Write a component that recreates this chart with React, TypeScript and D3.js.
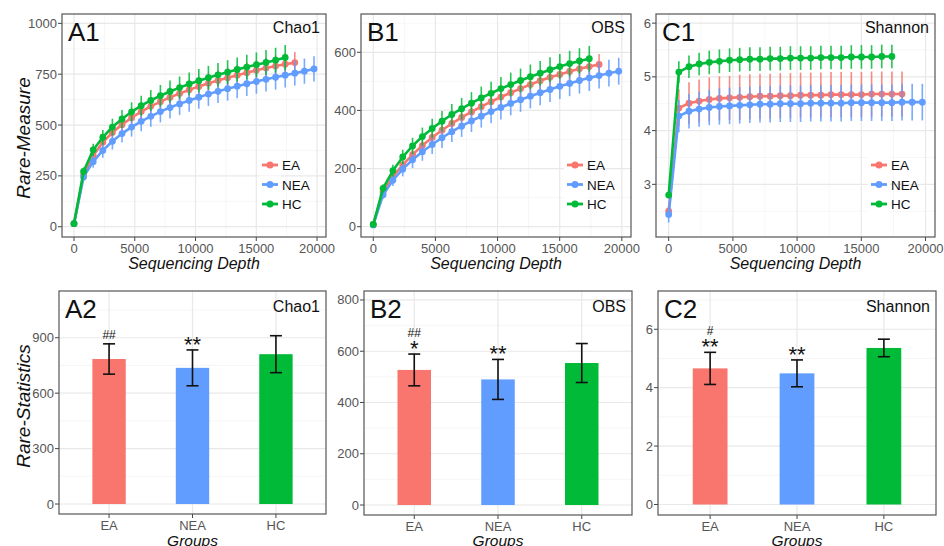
import { useEffect, useRef } from "react";
import * as d3 from "d3";

const groups = ["EA", "NEA", "HC"];
const colors = ["#F8766D", "#619CFF", "#00BA38"];

const depths = [0, 790, 1580, 2370, 3160, 3950, 4740, 5530, 6320, 7110, 7900, 8690, 9480,
  10270, 11060, 11850, 12640, 13430, 14220, 15010, 15800, 16590, 17380, 18170, 18960, 19750];

// Chao1 rarefaction
const chaoEA = [15, 255, 350, 415, 463, 502, 536, 566, 592, 615, 636, 655, 673, 690, 705, 719, 732, 745, 757, 769, 780, 790, 799, 807];
const chaoNEA = [15, 245, 320, 375, 420, 458, 490, 518, 543, 566, 586, 604, 621, 637, 652, 666, 679, 691, 703, 714, 725, 735, 745, 755, 765, 776];
const chaoHC = [15, 272, 378, 440, 490, 530, 565, 595, 621, 644, 665, 684, 702, 718, 733, 747, 760, 773, 785, 797, 808, 819, 832];
const chaoEAsd = [4, 18, 28, 33, 37, 40, 42, 44, 45, 46, 47, 48, 48, 49, 49, 50, 50, 50, 51, 51, 51, 52, 52, 52];
const chaoNEAsd = [4, 20, 30, 36, 40, 44, 47, 49, 51, 53, 54, 55, 56, 57, 58, 58, 59, 59, 60, 60, 60, 61, 61, 61, 62, 62];
const chaoHCsd = [4, 20, 30, 36, 41, 44, 47, 49, 51, 53, 54, 55, 56, 57, 58, 58, 59, 59, 60, 60, 61, 61, 62];

// Observed species rarefaction
const obsEA = [8, 120, 173, 213, 248, 279, 307, 332, 355, 376, 395, 413, 430, 446, 461, 475, 489, 502, 514, 524, 534, 543, 551, 558];
const obsNEA = [6, 110, 160, 198, 230, 258, 283, 306, 327, 346, 364, 380, 396, 410, 424, 437, 449, 461, 472, 483, 493, 503, 512, 520, 528, 535];
const obsHC = [8, 132, 193, 240, 278, 310, 338, 363, 386, 406, 425, 443, 459, 475, 489, 503, 516, 528, 540, 551, 561, 570, 578];
const obsEAsd = [3, 12, 18, 22, 25, 27, 29, 30, 31, 32, 33, 33, 34, 34, 34, 35, 35, 35, 36, 36, 36, 36, 36, 36];
const obsNEAsd = [3, 14, 20, 25, 28, 31, 33, 35, 36, 37, 38, 39, 40, 41, 41, 42, 42, 43, 43, 44, 44, 45, 45, 45, 46, 46];
const obsHCsd = [3, 14, 20, 25, 28, 31, 33, 35, 36, 37, 38, 39, 40, 40, 41, 41, 42, 42, 43, 43, 44, 44, 44];

// Shannon rarefaction
const shanEA = [2.5, 4.42, 4.51, 4.55, 4.58, 4.6, 4.61, 4.62, 4.63, 4.64, 4.64, 4.65, 4.65, 4.66, 4.66, 4.66, 4.67, 4.67, 4.67, 4.67, 4.68, 4.68, 4.68, 4.68];
const shanNEA = [2.44, 4.27, 4.36, 4.4, 4.43, 4.45, 4.46, 4.47, 4.48, 4.49, 4.49, 4.5, 4.5, 4.5, 4.51, 4.51, 4.51, 4.51, 4.52, 4.52, 4.52, 4.52, 4.52, 4.53, 4.53, 4.53];
const shanHC = [2.8, 5.09, 5.19, 5.24, 5.27, 5.29, 5.31, 5.32, 5.33, 5.33, 5.34, 5.34, 5.35, 5.35, 5.35, 5.36, 5.36, 5.36, 5.37, 5.37, 5.37, 5.38, 5.38];
const shanEAsd = [0.08, 0.35, 0.39, 0.4, 0.41, 0.41, 0.41, 0.42, 0.42, 0.42, 0.42, 0.42, 0.42, 0.42, 0.42, 0.42, 0.42, 0.42, 0.42, 0.42, 0.42, 0.42, 0.42, 0.42];
const shanNEAsd = [0.15, 0.3, 0.32, 0.33, 0.33, 0.34, 0.34, 0.34, 0.34, 0.34, 0.34, 0.34, 0.34, 0.34, 0.34, 0.34, 0.34, 0.34, 0.34, 0.34, 0.34, 0.34, 0.34, 0.34, 0.34, 0.34];
const shanHCsd = [0.05, 0.2, 0.21, 0.21, 0.22, 0.22, 0.22, 0.22, 0.22, 0.22, 0.22, 0.22, 0.22, 0.22, 0.22, 0.22, 0.22, 0.22, 0.22, 0.22, 0.22, 0.22, 0.22];

// group statistics (mean, sd)
const chaoMean = [785, 737, 811];
const chaoSd = [82, 97, 100];
const obsMean = [527, 490, 554];
const obsSd = [62, 78, 76];
const shanMean = [4.66, 4.49, 5.36];
const shanSd = [0.55, 0.46, 0.3];

// significance marks
const chaoStars = ["", "**", ""];
const chaoHash = ["##", "", ""];
const obsStars = ["*", "**", ""];
const obsHash = ["##", "", ""];
const shanStars = ["**", "**", ""];
const shanHash = ["#", "", ""];

const FONT = "'Liberation Sans', Arial, sans-serif";

type Sel = d3.Selection<SVGGElement, unknown, null, undefined>;

function frame(g: Sel, x: d3.ScaleLinear<number, number>, y: d3.ScaleLinear<number, number>,
  xMajor: number[], xMinor: number[], yMajor: number[], yMinor: number[],
  xLabels: string[], yLabels: string[]) {
  const [x0, x1] = x.range();
  const [y0, y1] = y.range();
  g.append("rect").attr("x", x0).attr("y", y1).attr("width", x1 - x0).attr("height", y0 - y1).attr("fill", "white");
  const inX = (v: number) => x(v) > x0 && x(v) < x1;
  const inY = (v: number) => y(v) < y0 && y(v) > y1;
  g.selectAll(null).data(xMinor.filter(inX)).join("line")
    .attr("x1", d => x(d)).attr("x2", d => x(d)).attr("y1", y0).attr("y2", y1)
    .attr("stroke", "#f2f2f2").attr("stroke-width", 0.7);
  g.selectAll(null).data(yMinor.filter(inY)).join("line")
    .attr("y1", d => y(d)).attr("y2", d => y(d)).attr("x1", x0).attr("x2", x1)
    .attr("stroke", "#f2f2f2").attr("stroke-width", 0.7);
  g.selectAll(null).data(xMajor).join("line")
    .attr("x1", d => x(d)).attr("x2", d => x(d)).attr("y1", y0).attr("y2", y1)
    .attr("stroke", "#e8e8e8").attr("stroke-width", 1.2);
  g.selectAll(null).data(yMajor).join("line")
    .attr("y1", d => y(d)).attr("y2", d => y(d)).attr("x1", x0).attr("x2", x1)
    .attr("stroke", "#e8e8e8").attr("stroke-width", 1.2);
  // ticks
  g.selectAll(null).data(xMajor).join("line")
    .attr("x1", d => x(d)).attr("x2", d => x(d)).attr("y1", y0).attr("y2", y0 + 4)
    .attr("stroke", "#444").attr("stroke-width", 1);
  g.selectAll(null).data(yMajor).join("line")
    .attr("y1", d => y(d)).attr("y2", d => y(d)).attr("x1", x0).attr("x2", x0 - 4)
    .attr("stroke", "#444").attr("stroke-width", 1);
  g.selectAll(null).data(xMajor).join("text")
    .attr("x", d => x(d)).attr("y", y0 + 15.5).attr("text-anchor", "middle")
    .attr("font-size", 13).attr("fill", "#555").attr("font-family", FONT)
    .text((d, i) => xLabels[i]);
  g.selectAll(null).data(yMajor).join("text")
    .attr("x", x0 - 5).attr("y", d => y(d) + 4.5).attr("text-anchor", "end")
    .attr("font-size", 13).attr("fill", "#555").attr("font-family", FONT)
    .text((d, i) => yLabels[i]);
}

function border(g: Sel, x: d3.ScaleLinear<number, number>, y: d3.ScaleLinear<number, number>) {
  const [x0, x1] = x.range();
  const [y0, y1] = y.range();
  g.append("rect").attr("x", x0).attr("y", y1).attr("width", x1 - x0).attr("height", y0 - y1)
    .attr("fill", "none").attr("stroke", "#555").attr("stroke-width", 1.2);
}

function titles(g: Sel, x0: number, x1: number, big: string, small: string, bigBase: number, smallBase: number) {
  g.append("text").attr("x", x0 + 6).attr("y", bigBase).attr("font-size", 26).attr("font-family", FONT)
    .attr("fill", "#111").text(big);
  g.append("text").attr("x", x1 - 6).attr("y", smallBase).attr("text-anchor", "end").attr("font-size", 16)
    .attr("font-family", FONT).attr("fill", "#111").text(small);
}

export default function App() {
  const ref = useRef<SVGSVGElement>(null);

  useEffect(() => {
    const svg = d3.select(ref.current);
    svg.selectAll("*").remove();

    const linePanels = [
      { left: 62, right: 326, top: 14, bottom: 237, yDomain: [-50.6, 1046], yMajor: [0, 250, 500, 750, 1000], yMinor: [125, 375, 625, 875],
        big: "A1", small: "Chao1", means: [chaoEA, chaoNEA, chaoHC], sds: [chaoEAsd, chaoNEAsd, chaoHCsd] },
      { left: 361, right: 631, top: 14, bottom: 237, yDomain: [-35.4, 731.7], yMajor: [0, 200, 400, 600], yMinor: [100, 300, 500, 700],
        big: "B1", small: "OBS", means: [obsEA, obsNEA, obsHC], sds: [obsEAsd, obsNEAsd, obsHCsd] },
      { left: 656, right: 935, top: 14, bottom: 237, yDomain: [2.02, 6.17], yMajor: [3, 4, 5, 6], yMinor: [2.5, 3.5, 4.5, 5.5],
        big: "C1", small: "Shannon", means: [shanEA, shanNEA, shanHC], sds: [shanEAsd, shanNEAsd, shanHCsd] },
    ];

    const xMajor = [0, 5000, 10000, 15000, 20000];
    const xMinor = [2500, 7500, 12500, 17500];

    linePanels.forEach(p => {
      const g = svg.append("g") as unknown as Sel;
      const x = d3.scaleLinear().domain([-987.5, 20737.5]).range([p.left, p.right]);
      const y = d3.scaleLinear().domain(p.yDomain).range([p.bottom, p.top]);
      frame(g, x, y, xMajor, xMinor, p.yMajor, p.yMinor, xMajor.map(String), p.yMajor.map(String));
      titles(g, p.left, p.right, p.big, p.small, 41, 33);

      p.means.forEach((vals, gi) => {
        const pts = vals.map((v, i) => ({ d: depths[i], v, s: p.sds[gi][i] }));
        const sg = g.append("g");
        sg.selectAll(null).data(pts).join("line")
          .attr("x1", d => x(d.d)).attr("x2", d => x(d.d))
          .attr("y1", d => y(d.v - d.s)).attr("y2", d => y(d.v + d.s))
          .attr("stroke", colors[gi]).attr("stroke-width", 1.6).attr("opacity", 0.85);
        sg.append("path").datum(pts)
          .attr("d", d3.line<any>().x(d => x(d.d)).y(d => y(d.v)))
          .attr("fill", "none").attr("stroke", colors[gi]).attr("stroke-width", 2.6);
        sg.selectAll(null).data(pts).join("circle")
          .attr("cx", d => x(d.d)).attr("cy", d => y(d.v)).attr("r", 3.4).attr("fill", colors[gi]);
      });

      // legend
      const lg = g.append("g");
      groups.forEach((name, gi) => {
        const ly = 165 + gi * 19.5;
        const lx = p.right - 64;
        lg.append("rect").attr("x", lx - 3).attr("y", ly - 9).attr("width", 22).attr("height", 18).attr("fill", "white");
        lg.append("line").attr("x1", lx).attr("x2", lx + 16).attr("y1", ly).attr("y2", ly)
          .attr("stroke", colors[gi]).attr("stroke-width", 2.8);
        lg.append("circle").attr("cx", lx + 8).attr("cy", ly).attr("r", 3.5).attr("fill", colors[gi]);
        lg.append("text").attr("x", lx + 20).attr("y", ly + 5).attr("font-size", 13.5).attr("font-family", FONT)
          .attr("fill", "#111").text(name);
      });

      border(g, x, y);
      g.append("text").attr("x", (p.left + p.right) / 2).attr("y", 269).attr("text-anchor", "middle")
        .attr("font-size", 16).attr("font-style", "italic").attr("font-family", FONT).attr("fill", "#111")
        .text("Sequencing Depth");
    });

    const barPanels = [
      { left: 59, right: 326, top: 291, bottom: 514, yDomain: [-54, 1153], yMajor: [0, 300, 600, 900], yMinor: [150, 450, 750, 1050],
        big: "A2", small: "Chao1", mean: chaoMean, sd: chaoSd, stars: chaoStars, hash: chaoHash },
      { left: 364, right: 632, top: 291, bottom: 515, yDomain: [-39, 835], yMajor: [0, 200, 400, 600, 800], yMinor: [100, 300, 500, 700],
        big: "B2", small: "OBS", mean: obsMean, sd: obsSd, stars: obsStars, hash: obsHash },
      { left: 658, right: 936, top: 291, bottom: 515, yDomain: [-0.36, 7.31], yMajor: [0, 2, 4, 6], yMinor: [1, 3, 5, 7],
        big: "C2", small: "Shannon", mean: shanMean, sd: shanSd, stars: shanStars, hash: shanHash },
    ];

    barPanels.forEach(p => {
      const g = svg.append("g") as unknown as Sel;
      const x = d3.scaleLinear().domain([0.4, 3.6]).range([p.left, p.right]);
      const y = d3.scaleLinear().domain(p.yDomain).range([p.bottom, p.top]);
      frame(g, x, y, [1, 2, 3], [], p.yMajor, p.yMinor, groups, p.yMajor.map(String));
      titles(g, p.left, p.right, p.big, p.small, 318, 312);
      const idx = [0, 1, 2];
      g.selectAll(null).data(idx).join("rect")
        .attr("x", i => x(i + 1 - 0.2)).attr("width", i => x(i + 1.2) - x(i + 0.8))
        .attr("y", i => y(p.mean[i])).attr("height", i => y(0) - y(p.mean[i]))
        .attr("fill", i => colors[i]);
      const eb = g.append("g").attr("stroke", "#111").attr("stroke-width", 1.6);
      idx.forEach(i => {
        const cx = x(i + 1);
        const t = y(p.mean[i] + p.sd[i]);
        const b = y(p.mean[i] - p.sd[i]);
        eb.append("line").attr("x1", cx).attr("x2", cx).attr("y1", t).attr("y2", b);
        eb.append("line").attr("x1", cx - 6).attr("x2", cx + 6).attr("y1", t).attr("y2", t);
        eb.append("line").attr("x1", cx - 6).attr("x2", cx + 6).attr("y1", b).attr("y2", b);
        if (p.stars[i]) {
          g.append("text").attr("x", cx).attr("y", t + 2).attr("text-anchor", "middle")
            .attr("font-size", 22).attr("font-family", FONT).attr("fill", "#111").text(p.stars[i]);
        }
        if (p.hash[i]) {
          g.append("text").attr("x", cx).attr("y", p.stars[i] ? t - 17 : t - 5).attr("text-anchor", "middle")
            .attr("font-size", 12).attr("font-family", FONT).attr("fill", "#111").text(p.hash[i]);
        }
      });
      border(g, x, y);
      g.append("text").attr("x", (p.left + p.right) / 2).attr("y", 546).attr("text-anchor", "middle")
        .attr("font-size", 15.5).attr("font-style", "italic").attr("font-family", FONT).attr("fill", "#111")
        .text("Groups");
    });

    svg.append("text").attr("transform", "translate(30,138) rotate(-90)").attr("text-anchor", "middle")
      .attr("font-size", 19).attr("font-style", "italic").attr("font-family", FONT).attr("fill", "#111")
      .text("Rare-Measure");
    svg.append("text").attr("transform", "translate(30,406) rotate(-90)").attr("text-anchor", "middle")
      .attr("font-size", 19).attr("font-style", "italic").attr("font-family", FONT).attr("fill", "#111")
      .text("Rare-Statistics");
  }, []);

  return (
    <svg ref={ref} width={944} height={546} viewBox="0 0 944 546"
      style={{ position: "absolute", left: 0, top: 0, background: "white" }} />
  );
}
